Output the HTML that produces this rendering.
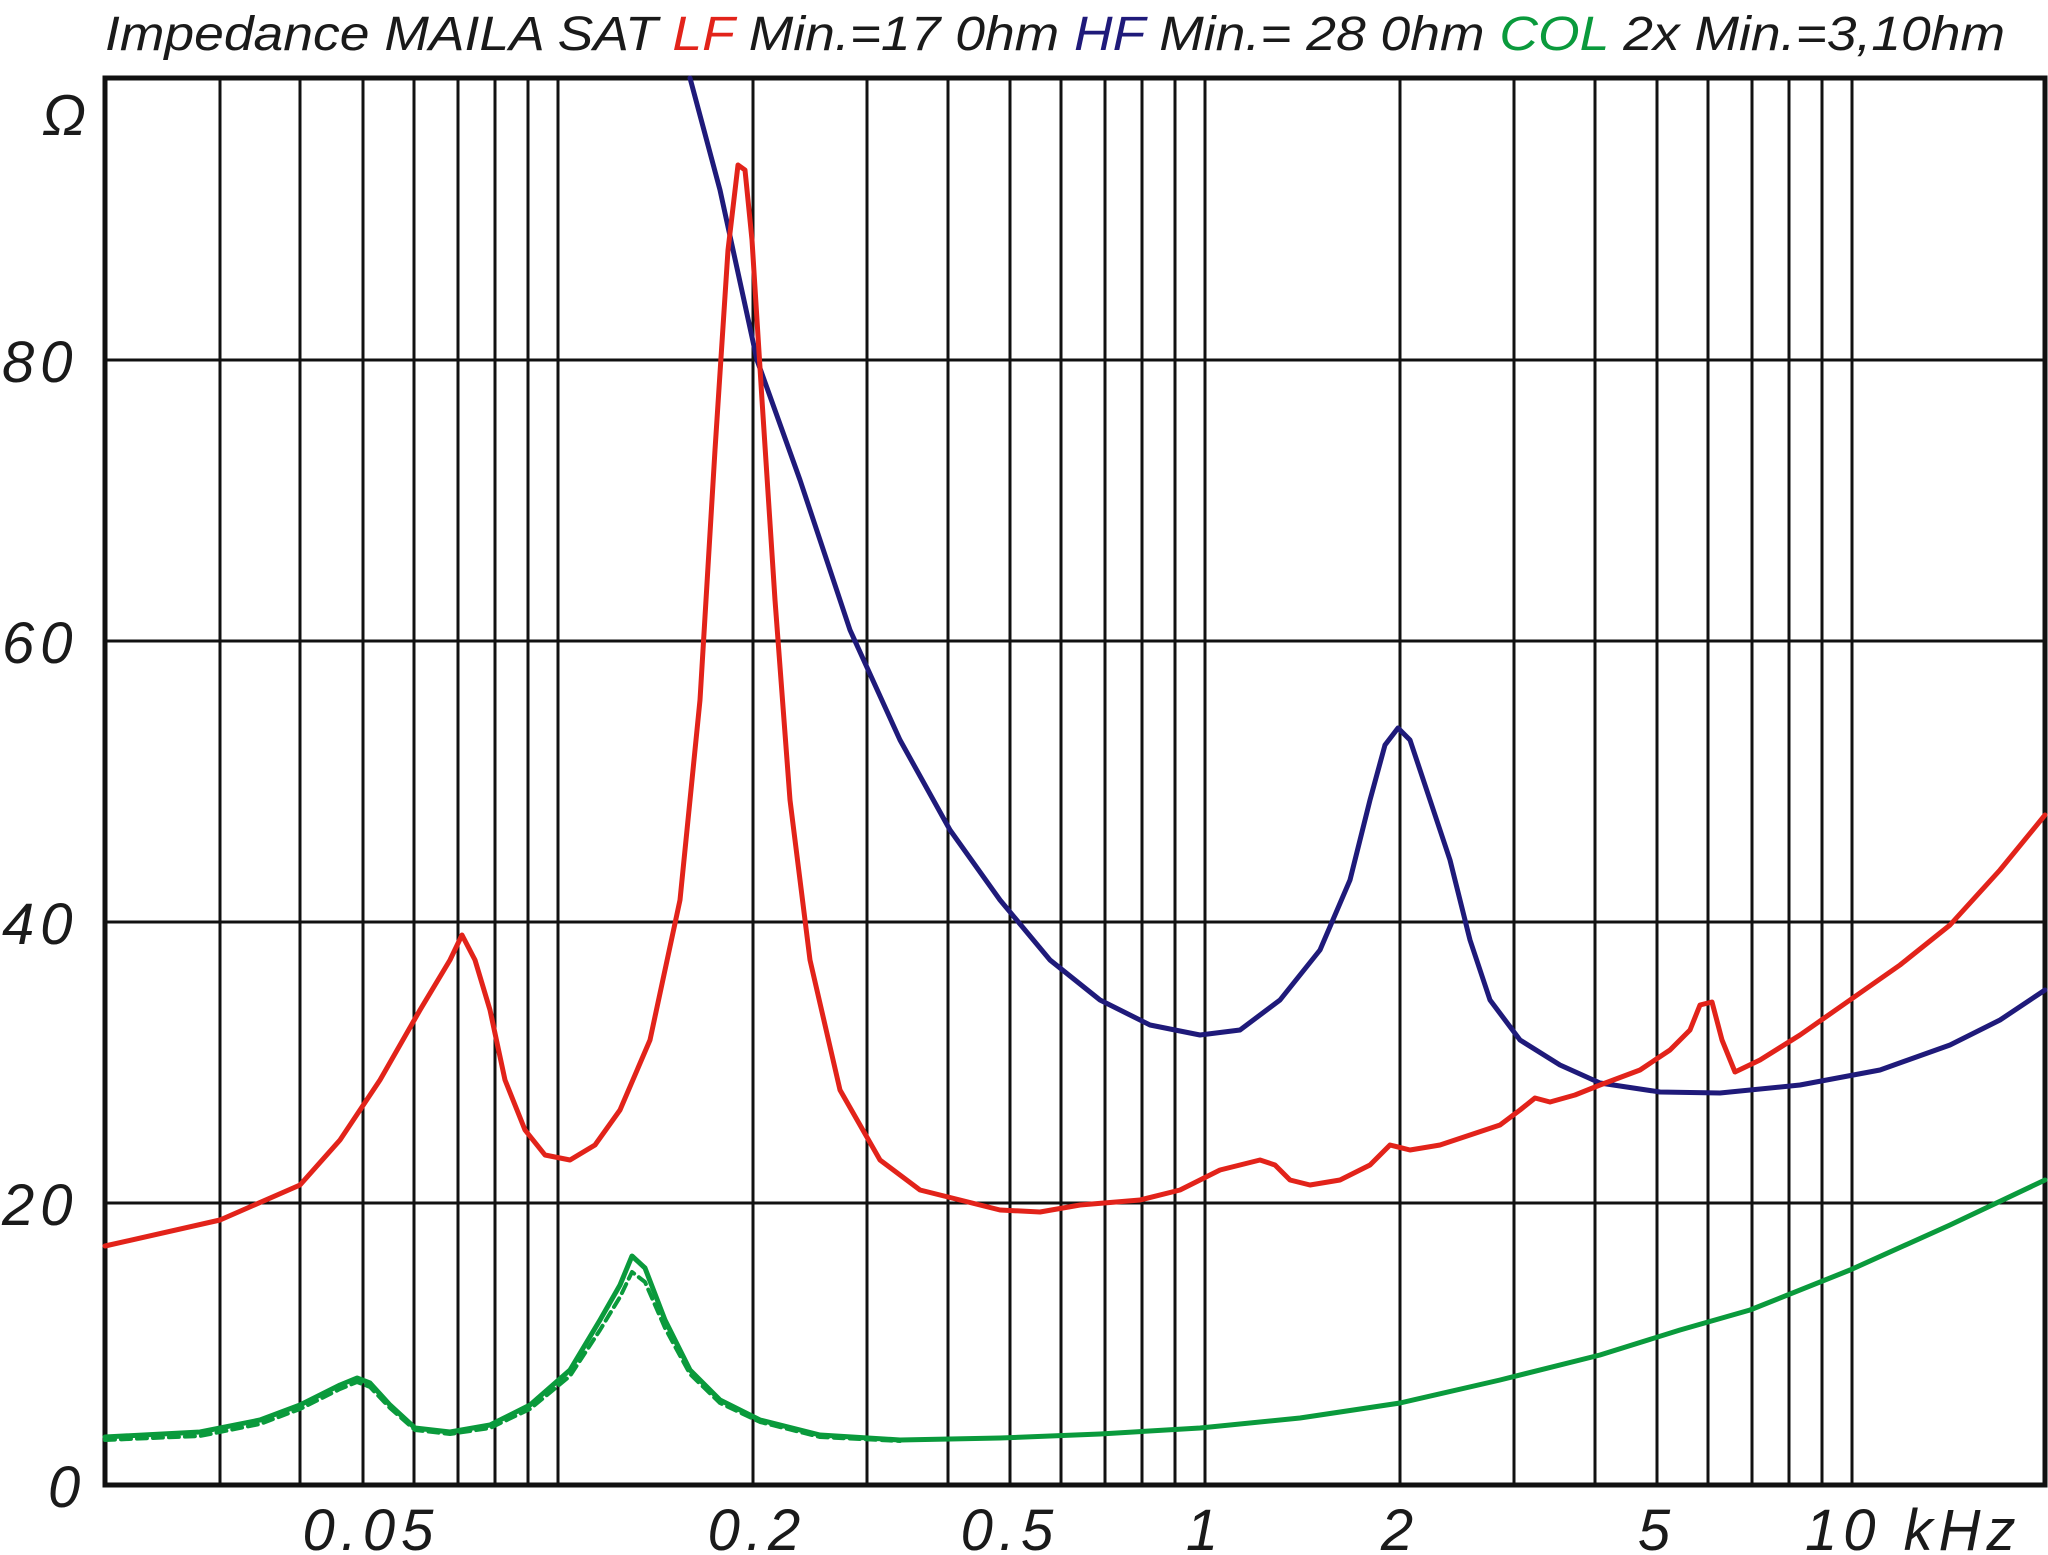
<!DOCTYPE html>
<html><head><meta charset="utf-8"><style>
html,body{margin:0;padding:0;background:#fff}
svg{display:block}
text{font-family:"Liberation Sans",sans-serif;font-style:italic}
</style></head><body>
<svg width="2048" height="1555" viewBox="0 0 2048 1555" xmlns="http://www.w3.org/2000/svg">
<rect width="2048" height="1555" fill="#fff"/>
<text x="105" y="50" font-size="48" fill="#1a1a1a" textLength="1900" lengthAdjust="spacingAndGlyphs"><tspan>Impedance  MAILA  SAT </tspan><tspan fill="#e2231a">LF</tspan><tspan> Min.=17 0hm </tspan><tspan fill="#1f1a7a">HF</tspan><tspan> Min.=  28 0hm </tspan><tspan fill="#0a9a3c">COL</tspan><tspan>  2x  Min.=3,10hm</tspan></text>
<g stroke="#111" stroke-width="3" fill="none">
<path d="M220 78V1485M300 78V1485M363 78V1485M414 78V1485M458 78V1485M495 78V1485M528 78V1485M558 78V1485M753 78V1485M867 78V1485M948 78V1485M1010 78V1485M1061 78V1485M1105 78V1485M1142 78V1485M1175 78V1485M1205 78V1485M1400 78V1485M1514 78V1485M1595 78V1485M1657 78V1485M1708 78V1485M1752 78V1485M1789 78V1485M1822 78V1485M1852 78V1485"/>
<path d="M105 360H2045M105 641H2045M105 922H2045M105 1203H2045"/>
<rect x="105" y="78" width="1940" height="1407" stroke-width="5"/>
</g>
<g font-size="58" fill="#1a1a1a" letter-spacing="6">
<text x="42" y="135">Ω</text>
<text x="2" y="382">80</text>
<text x="2" y="663">60</text>
<text x="2" y="944">40</text>
<text x="2" y="1225">20</text>
<text x="48" y="1507">0</text>
<g text-anchor="middle">
<text x="371" y="1550">0.05</text>
<text x="757" y="1550">0.2</text>
<text x="1010" y="1550">0.5</text>
<text x="1205" y="1550">1</text>
<text x="1400" y="1550">2</text>
<text x="1657" y="1550">5</text>
</g>
<text x="1805" y="1550">10 kHz</text>
</g>
<g fill="none" stroke-width="5" stroke-linejoin="round" stroke-linecap="round">
<polyline stroke="#1f1a7a" points="690,78 720,190 757,360 800,480 850,630 900,740 950,830 1000,900 1050,960 1100,1000 1150,1025 1200,1035 1240,1030 1280,1000 1320,950 1350,880 1370,800 1385,745 1398,728 1410,740 1430,800 1450,860 1470,940 1490,1000 1520,1040 1560,1065 1600,1083 1660,1092 1720,1093 1800,1085 1880,1070 1950,1045 2000,1020 2045,990"/>
<polyline stroke="#e2231a" points="105,1246 220,1220 300,1185 340,1140 380,1080 420,1010 450,960 462,935 475,960 490,1010 505,1080 525,1130 545,1155 570,1160 595,1145 620,1110 650,1040 680,900 700,700 715,450 728,250 738,165 745,170 752,240 762,400 775,600 790,800 810,960 840,1090 880,1160 920,1190 960,1200 1000,1210 1040,1212 1080,1205 1140,1200 1180,1190 1220,1170 1260,1160 1275,1165 1290,1180 1310,1185 1340,1180 1370,1165 1390,1145 1410,1150 1440,1145 1470,1135 1500,1125 1520,1110 1535,1098 1550,1102 1575,1095 1600,1085 1640,1070 1670,1050 1690,1030 1700,1005 1712,1002 1722,1040 1735,1072 1760,1060 1800,1035 1850,1000 1900,965 1950,925 2000,870 2045,815"/>
<polyline stroke="#0a9a3c" points="105,1437 200,1432 260,1420 300,1405 340,1385 357,1378 370,1383 390,1405 415,1428 450,1432 490,1425 530,1405 570,1370 600,1320 620,1285 632,1256 645,1268 665,1320 690,1370 720,1400 760,1420 820,1435 900,1440 1000,1438 1100,1434 1200,1428 1300,1418 1400,1403 1500,1380 1600,1355 1680,1330 1750,1310 1850,1270 1950,1225 2045,1180"/>
<polyline stroke="#0a9a3c" stroke-width="4" stroke-dasharray="10 6" points="105,1440 200,1436 260,1424 300,1409 340,1389 357,1382 370,1387 390,1408 415,1430 450,1434 490,1428 530,1409 570,1376 600,1330 620,1297 632,1272 645,1282 665,1328 690,1374 720,1403 760,1422 820,1437 900,1441"/>
</g>
</svg>
</body></html>
